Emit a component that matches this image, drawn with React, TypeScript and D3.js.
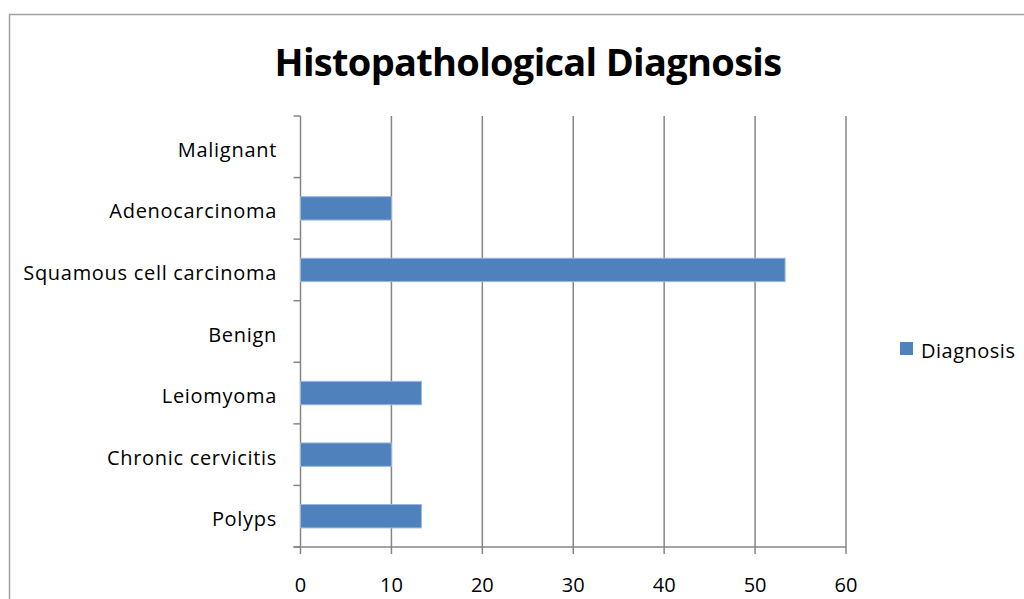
import React from "react";
import * as d3 from "d3";

const categories = [
  "Malignant",
  "Adenocarcinoma",
  "Squamous cell carcinoma",
  "Benign",
  "Leiomyoma",
  "Chronic cervicitis",
  "Polyps",
];
const values = [0, 10, 53.3, 0, 13.3, 10, 13.3];
const xTicks = [0, 10, 20, 30, 40, 50, 60];
const seriesName = "Diagnosis";
const title = "Histopathological Diagnosis";

const W = 1024;
const H = 599;
const left = 300.5;
const right = 846;
const top = 116;
const bottom = 547;
const font = "'Open Sans', 'DejaVu Sans', sans-serif";
const gridColor = "#868686";

export default function App() {
  const x = d3.scaleLinear().domain([0, 60]).range([left, right]);
  const y = d3
    .scaleBand<string>()
    .domain(categories)
    .range([top, bottom])
    .paddingInner(0.62)
    .paddingOuter(0.31);
  const step = (bottom - top) / categories.length;
  const boundaries = d3.range(categories.length + 1).map((i) => top + i * step);

  return (
    <svg
      width={W}
      height={H}
      style={{ position: "absolute", left: 0, top: 0 }}
      fontFamily={font}
    >
      <rect x={0} y={0} width={W} height={H} fill="#fff" />
      <rect x={9.5} y={14.5} width={1100} height={700} fill="none" stroke="#a0a0a0" strokeWidth={1.5} />
      <text x={528} y={76} textAnchor="middle" fontSize={38} fontWeight="bold" fill="#000" letterSpacing={-0.7}>
        {title}
      </text>
      {xTicks.map((t) => (
        <g key={t}>
          <line x1={x(t)} x2={x(t)} y1={top} y2={bottom + 7} stroke={gridColor} strokeWidth={1.5} />
          <text x={x(t)} y={592} textAnchor="middle" fontSize={20} fill="#000">
            {t}
          </text>
        </g>
      ))}
      {boundaries.map((b, i) => (
        <line key={i} x1={left - 7} x2={left} y1={b} y2={b} stroke={gridColor} strokeWidth={1.5} />
      ))}
      <line x1={left - 7} x2={right} y1={bottom} y2={bottom} stroke={gridColor} strokeWidth={1.5} />
      {categories.map((c, i) =>
        values[i] > 0 ? (
          <rect
            key={c}
            x={x(0)}
            y={y(c)!}
            width={x(values[i]) - x(0)}
            height={y.bandwidth()}
            fill="#4f81bd"
            stroke="#9ab8de"
            strokeWidth={1}
          />
        ) : null
      )}
      {categories.map((c) => (
        <text
          key={c}
          x={277}
          y={y(c)! + y.bandwidth() / 2 + 3}
          dy="0.35em"
          textAnchor="end"
          fontSize={20}
          letterSpacing={0.7}
          fill="#000"
        >
          {c}
        </text>
      ))}
      <rect x={900} y={342} width={13} height={13} fill="#4f81bd" />
      <text x={921} y={351} dy="0.35em" fontSize={20} letterSpacing={0.5} fill="#000">
        {seriesName}
      </text>
    </svg>
  );
}
